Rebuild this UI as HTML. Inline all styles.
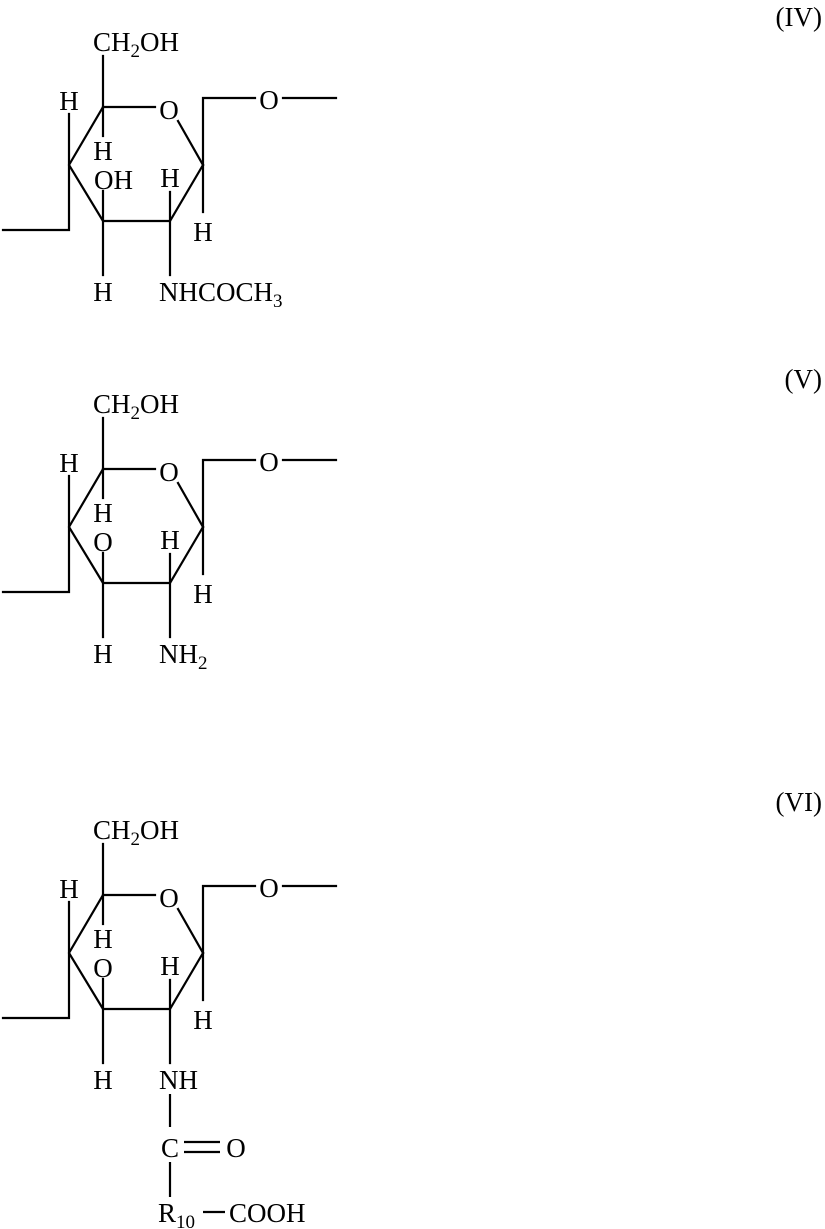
<!DOCTYPE html>
<html><head><meta charset="utf-8"><style>
html,body{margin:0;padding:0;background:#fff;}
svg{display:block;}
text{font-family:"Liberation Serif",serif;font-size:27px;fill:#000;}
.s{font-size:19px;}
</style></head><body>
<svg width="825" height="1229" viewBox="0 0 825 1229" xmlns="http://www.w3.org/2000/svg">
<defs>
<g id="ring" stroke="#000" stroke-width="2.2" fill="none" stroke-linecap="square">
  <polyline points="103,56 103,107 155,107"/>
  <line x1="103" y1="107" x2="103" y2="136"/>
  <line x1="178" y1="121" x2="203" y2="165"/>
  <polyline points="203,165 170,221 103,221 69,165 103,107"/>
  <polyline points="69,114 69,230 3,230"/>
  <line x1="103" y1="191" x2="103" y2="275"/>
  <line x1="170" y1="192" x2="170" y2="275"/>
  <polyline points="203,212 203,98 255,98"/>
  <line x1="283" y1="98" x2="336" y2="98"/>
</g>
<g id="lab">
  <text x="93" y="51">CH<tspan class="s" dy="6">2</tspan><tspan dy="-6">OH</tspan></text>
  <text x="169" y="119" text-anchor="middle">O</text>
  <text x="269" y="109" text-anchor="middle">O</text>
  <text x="69" y="110" text-anchor="middle">H</text>
  <text x="103" y="160" text-anchor="middle">H</text>
  <text x="170" y="187" text-anchor="middle">H</text>
  <text x="203" y="241" text-anchor="middle">H</text>
  <text x="103" y="301" text-anchor="middle">H</text>
</g>
</defs>

<text x="822" y="26" text-anchor="end">(IV)</text>
<use href="#ring"/>
<use href="#lab"/>
<text x="94" y="189">OH</text>
<text x="159" y="301">NHCOCH<tspan class="s" dy="6">3</tspan></text>

<text x="822" y="388" text-anchor="end">(V)</text>
<g transform="translate(0,362)">
<use href="#ring"/>
<use href="#lab"/>
<text x="103" y="189" text-anchor="middle">O</text>
<text x="159" y="301">NH<tspan class="s" dy="6">2</tspan></text>
</g>

<text x="822" y="811" text-anchor="end">(VI)</text>
<g transform="translate(0,788)">
<use href="#ring"/>
<use href="#lab"/>
<text x="103" y="189" text-anchor="middle">O</text>
<text x="159" y="301">NH</text>
<g stroke="#000" stroke-width="2.2" fill="none">
  <line x1="170" y1="306" x2="170" y2="339"/>
  <line x1="184" y1="354" x2="220" y2="354"/>
  <line x1="184" y1="364" x2="220" y2="364"/>
  <line x1="170" y1="374" x2="170" y2="409"/>
  <line x1="203" y1="424" x2="225" y2="424"/>
</g>
<text x="170" y="369" text-anchor="middle">C</text>
<text x="236" y="369" text-anchor="middle">O</text>
<text x="158" y="434">R<tspan class="s" dy="6">10</tspan></text>
<text x="229" y="434">COOH</text>
</g>
</svg>
</body></html>
